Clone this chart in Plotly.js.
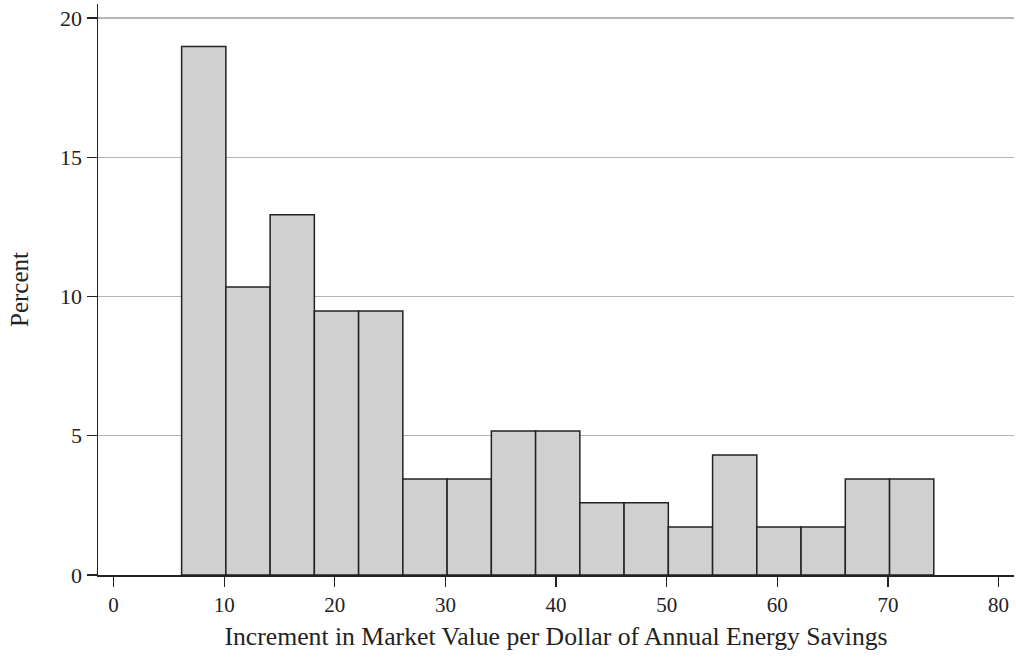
<!DOCTYPE html>
<html>
<head>
<meta charset="utf-8">
<script src="https://cdn.plot.ly/plotly-3.0.1.min.js"></script>
<style>html,body{margin:0;padding:0;background:#fff;}#chart{width:1016px;height:658px;}</style>
</head>
<body>
<div id="chart"></div>
<script>
// Histogram bins (left edges) and percent heights
const binLeft = [6.15, 10.15, 14.15, 18.15, 22.15, 26.15, 30.15, 34.15, 38.15, 42.15, 46.15, 50.15, 54.15, 58.15, 62.15, 66.15, 70.15];
const binWidth = 4;
const percent = [18.97, 10.34, 12.93, 9.48, 9.48, 3.45, 3.45, 5.17, 5.17, 2.59, 2.59, 1.72, 4.31, 1.72, 1.72, 3.45, 3.45];
const xTicks = [0, 10, 20, 30, 40, 50, 60, 70, 80];
const yTicks = [0, 5, 10, 15, 20];

const centers = binLeft.map(l => l + binWidth / 2);
const font = "Liberation Serif, Times New Roman, serif";

Plotly.newPlot('chart', [{
  type: 'bar',
  x: centers,
  y: percent,
  width: binLeft.map(() => binWidth),
  marker: {color: '#d0d0d0', line: {color: '#222222', width: 1.5}},
  hoverinfo: 'x+y'
}], {
  width: 1016, height: 658,
  margin: {l: 98, r: 2, t: 4, b: 83},
  paper_bgcolor: '#ffffff', plot_bgcolor: '#ffffff',
  showlegend: false,
  bargap: 0,
  font: {family: font, color: '#222222'},
  xaxis: {
    range: [-1.41, 81.4],
    tickvals: xTicks, ticktext: xTicks.map(String),
    ticks: 'outside', ticklen: 10, tickwidth: 1.3, tickcolor: '#222',
    showgrid: false, zeroline: false,
    showline: true, linecolor: '#222', linewidth: 1.5,
    tickfont: {size: 21, family: font, color: '#222'},
    title: {text: 'Increment in Market Value per Dollar of Annual Energy Savings', font: {size: 25.7, family: font, color: '#222'}, standoff: 11}
  },
  yaxis: {
    range: [0, 20.5],
    tickvals: yTicks, ticktext: yTicks.map(String),
    ticks: 'outside', ticklen: 10, tickwidth: 1.3, tickcolor: '#222',
    showgrid: true, gridcolor: '#b4b4b4', gridwidth: 1.3,
    zeroline: false,
    showline: true, linecolor: '#222', linewidth: 1.5,
    tickfont: {size: 22, family: font, color: '#222'},
    title: {text: 'Percent', font: {size: 25, family: font, color: '#222'}, standoff: 24}
  }
}, {displayModeBar: false, staticPlot: true});
</script>
</body>
</html>
